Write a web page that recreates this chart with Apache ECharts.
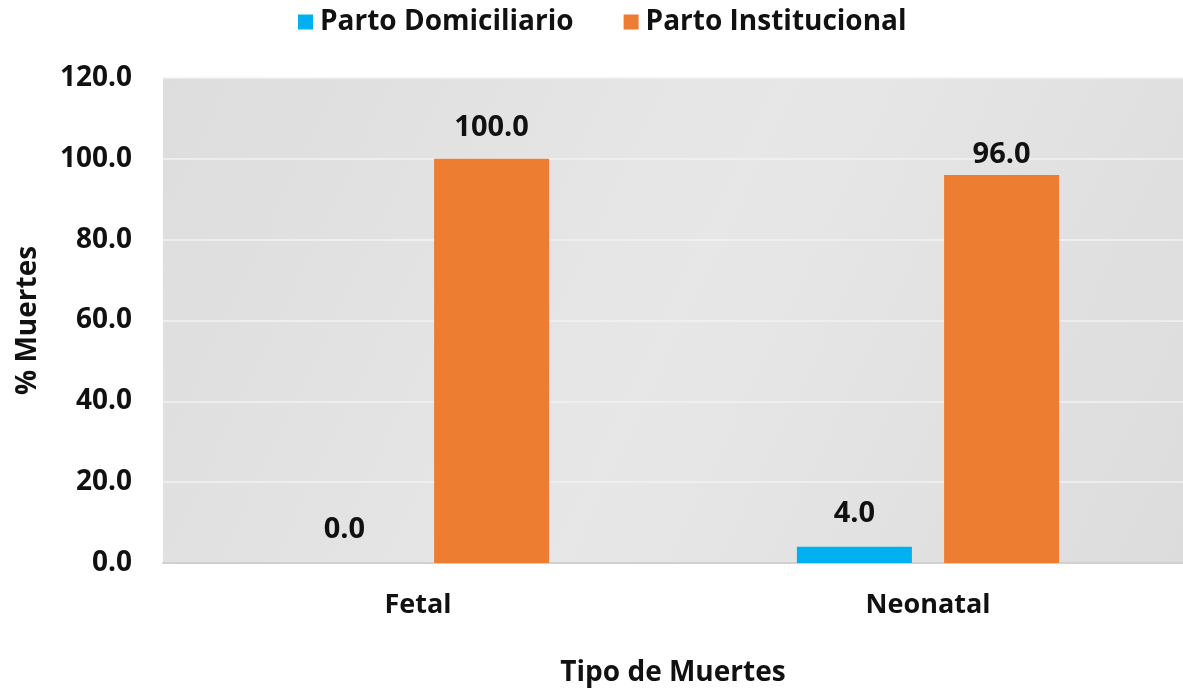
<!DOCTYPE html>
<html>
<head>
<meta charset="utf-8">
<script src="https://cdn.jsdelivr.net/npm/echarts@6/dist/echarts.min.js"></script>
<style>
  html, body { margin: 0; padding: 0; background: #fff; }
  #chart { width: 1183px; height: 693px; }
</style>
</head>
<body>
<div id="chart"></div>
<script>
var categories = ['Fetal', 'Neonatal']
var domiciliario = [0.0, 4.0]
var institucional = [100.0, 96.0]
var seriesNames = ['Parto Domiciliario', 'Parto Institucional']

var chart = echarts.init(document.getElementById('chart'))
var font = 'Open Sans'
function labelStyle (dist) {
  return {
    show: true,
    position: 'top',
    distance: dist,
    color: '#111',
    fontFamily: font,
    fontWeight: 'bold',
    fontSize: 29,
    formatter: function (p) { return p.value.toFixed(1) }
  }
}

chart.setOption({
  color: ['#00B0F0', '#ED7D31'],
  textStyle: { fontFamily: font },
  legend: {
    top: 3,
    left: 293,
    itemWidth: 15,
    itemHeight: 15,
    itemGap: 50,
    icon: 'rect',
    textStyle: { fontSize: 28, fontWeight: 'bold', color: '#111', fontFamily: font, padding: [0, 0, 0, 2] },
    data: seriesNames
  },
  grid: {
    left: 163,
    width: 1025,
    top: 78,
    bottom: 130,
    show: true,
    borderWidth: 0,
    backgroundColor: new echarts.graphic.LinearGradient(0, 0, 1, 1, [
      { offset: 0, color: '#dddddd' },
      { offset: 0.5, color: '#e7e7e7' },
      { offset: 1, color: '#dcdcdc' }
    ])
  },
  xAxis: {
    type: 'category',
    data: categories,
    name: 'Tipo de Muertes',
    nameLocation: 'middle',
    nameGap: 96,
    nameTextStyle: { fontSize: 28, fontWeight: 'bold', color: '#111' },
    axisLine: { show: true, lineStyle: { color: '#d0d0d0', width: 2 } },
    axisTick: { show: false },
    axisLabel: { fontSize: 27, fontWeight: 'bold', color: '#111', margin: 29 }
  },
  yAxis: {
    type: 'value',
    min: 0,
    max: 120,
    interval: 20,
    name: '% Muertes',
    nameLocation: 'middle',
    nameGap: 121,
    nameTextStyle: { fontSize: 28, fontWeight: 'bold', color: '#111' },
    axisLine: { show: false },
    axisTick: { show: false },
    axisLabel: {
      fontSize: 28,
      fontWeight: 'bold',
      color: '#111',
      margin: 31,
      formatter: function (v) { return v.toFixed(1) }
    },
    splitLine: { lineStyle: { color: '#f2f2f2', width: 1.5 } }
  },
  series: [
    {
      name: seriesNames[0],
      type: 'bar',
      data: domiciliario,
      barWidth: 115,
      barGap: '28%',
      label: labelStyle(19)
    },
    {
      name: seriesNames[1],
      type: 'bar',
      data: institucional.map(function (v, i) {
        // Neonatal label sits closer to its bar in the original
        return i === 1 ? { value: v, label: { distance: 6 } } : v
      }),
      barWidth: 115,
      barGap: '28%',
      label: labelStyle(17)
    }
  ]
})
window.addEventListener('resize', chart.resize)
</script>
</body>
</html>
